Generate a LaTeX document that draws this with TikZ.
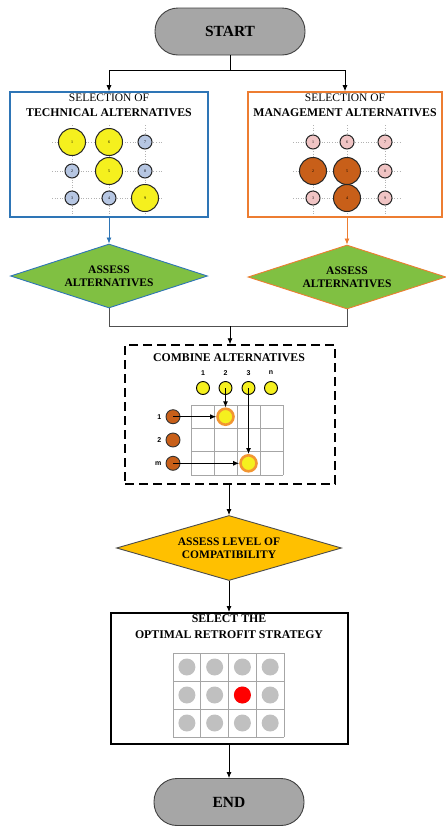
\documentclass[tikz,border=0pt]{standalone}
\usepackage{fontspec}
\setmainfont{Liberation Serif}
\setsansfont{Liberation Sans}
\usetikzlibrary{arrows.meta,positioning,shapes.geometric}
\definecolor{pillgray}{RGB}{166,166,166}
\definecolor{pilledge}{RGB}{64,64,64}
\definecolor{techblue}{RGB}{46,117,182}
\definecolor{mgmtorange}{RGB}{237,125,49}
\definecolor{assessgreen}{RGB}{128,192,66}
\definecolor{compatgold}{RGB}{255,192,0}
\definecolor{altyellow}{RGB}{245,240,30}
\definecolor{altorange}{RGB}{200,95,25}
\definecolor{ringorange}{RGB}{242,150,50}
\definecolor{altpink}{RGB}{240,196,196}
\definecolor{altblue}{RGB}{182,198,226}
\definecolor{optgray}{RGB}{192,192,192}
\definecolor{linegray}{RGB}{80,80,80}

\begin{document}
\begin{tikzpicture}[x=1pt,y=-1pt,
  pill/.style={draw=pilledge,fill=pillgray,line width=0.9pt,rounded corners=23pt,
    minimum width=150pt,minimum height=47pt,inner sep=0pt,font=\fontsize{15.5}{17}\selectfont\bfseries},
  selbox/.style={draw,line width=1.6pt,minimum width=198pt,minimum height=125pt,inner sep=0pt},
  title/.style={font=\fontsize{11.8}{13}\selectfont\bfseries,inner sep=0pt},
  subtitle/.style={font=\fontsize{11.5}{13}\selectfont,inner sep=0pt},
  dia/.style={diamond,shape aspect=3.5,draw,line width=0.9pt,inner sep=0pt,align=center,
    font=\fontsize{11.5}{13}\selectfont\bfseries},
  arr/.style={-{Latex[length=6pt,width=5pt]},line width=0.8pt},
  bigalt/.style={circle,draw=black!85,line width=1pt,minimum size=27pt,inner sep=0pt,font=\fontsize{4}{4}\selectfont},
  smallalt/.style={circle,draw=black!85,line width=1pt,minimum size=14pt,inner sep=0pt,font=\fontsize{4}{4}\selectfont},
  guide/.style={gray!60,dotted,line width=0.6pt},
  numlab/.style={font=\sffamily\bfseries\fontsize{7}{7}\selectfont,inner sep=0pt},
  ycirc/.style={circle,draw=black,fill=altyellow,line width=0.9pt,minimum size=13pt,inner sep=0pt},
  ocirc/.style={circle,draw=black!80,fill=altorange,line width=0.9pt,minimum size=14pt,inner sep=0pt},
  hit/.style={circle,draw=ringorange,fill=altyellow,line width=2.6pt,minimum size=16pt,inner sep=0pt},
  optcirc/.style={circle,fill=optgray,minimum size=17pt,inner sep=0pt}]
\useasboundingbox (0,0) rectangle (446,828);

% start and the two selection boxes
\node[pill] (start) at (230,31.5) {START};
\node[selbox,draw=techblue] (tech) at (109,154.5) {};
\node[selbox,draw=mgmtorange,minimum width=194pt] (mgmt) at (345,154.5) {};
\node[subtitle] (techtop) at (109,98) {SELECTION OF};
\node[title] (techname) at (109,113) {TECHNICAL ALTERNATIVES};
\node[subtitle] (mgmttop) at (345,98) {SELECTION OF};
\node[title] (mgmtname) at (345,113) {MANAGEMENT ALTERNATIVES};

\coordinate (split) at (230,70);
\draw[line width=0.8pt] (start) -- (split);
\draw[arr] (split) -| (tech.north);
\draw[arr] (split) -| (mgmt.north);

% technical alternatives
\foreach \y in {142,171,198} \draw[guide] (52,\y) -- (163,\y);
\foreach \x in {72,109,145} \draw[guide] (\x,125) -- (\x,215);
\foreach \n/\x/\y/\s/\c in {1/72/142/bigalt/altyellow,2/72/171/smallalt/altblue,3/72/198/smallalt/altblue,
  6/109/142/bigalt/altyellow,5/109/171/bigalt/altyellow,4/109/198/smallalt/altblue,
  7/145/142/smallalt/altblue,8/145/171/smallalt/altblue,9/145/198/bigalt/altyellow}
  \node[\s,fill=\c] (t\n) at (\x,\y) {\n};

% management alternatives
\foreach \y in {142,171,198} \draw[guide] (293,\y) -- (402,\y);
\foreach \x in {313,347,385} \draw[guide] (\x,125) -- (\x,215);
\foreach \n/\x/\y/\s/\c in {1/313/142/smallalt/altpink,2/313/171/bigalt/altorange,3/313/198/smallalt/altpink,
  6/347/142/smallalt/altpink,5/347/171/bigalt/altorange,4/347/198/bigalt/altorange,
  7/385/142/smallalt/altpink,8/385/171/smallalt/altpink,9/385/198/smallalt/altpink}
  \node[\s,fill=\c] (m\n) at (\x,\y) {\n};

% assessment of each set
\node[dia,draw=techblue,fill=assessgreen,minimum width=197pt,minimum height=64pt] (assesstech) at (109,276) {ASSESS\\ALTERNATIVES};
\node[dia,draw=mgmtorange,fill=assessgreen,minimum width=198pt,minimum height=64pt] (assessmgmt) at (347,277) {ASSESS\\ALTERNATIVES};
\draw[arr,techblue] (tech.south) -- (assesstech.north);
\draw[arr,mgmtorange] (mgmt.south -| assessmgmt.north) -- (assessmgmt.north);

\coordinate (merge) at (230,326);
\draw[line width=0.9pt,linegray] (assesstech.south) |- (merge);
\draw[line width=0.9pt,linegray] (assessmgmt.south) |- (merge);

% combine alternatives
\node[draw,dashed,dash pattern=on 9pt off 5pt,line width=1.5pt,minimum width=210pt,minimum height=139pt,inner sep=0pt] (combine) at (230,414.5) {};
\draw[arr] (merge) -- (combine.north);
\node[title] (combname) at (229,358) {COMBINE ALTERNATIVES};
\foreach \c in {0,...,4} \draw[gray!70,line width=0.8pt] (191+23*\c,405) -- (191+23*\c,475);
\foreach \r in {0,...,3} \draw[gray!70,line width=0.8pt] (191,405+70/3*\r) -- (283,405+70/3*\r);
\foreach \n/\x/\lab in {1/203/1,2/225.5/2,3/248.5/3,4/271/n} {
  \node[ycirc] (col\n) at (\x,388) {};
  \node[numlab] (collab\n) at (\x,373) {\lab};
}
\foreach \n/\y/\lab in {1/416.7/1,2/440/2,3/463.3/m} {
  \node[ocirc] (row\n) at (173,\y) {};
  \node[numlab,left=4pt of row\n] (rowlab\n) {\lab};
}
\node[hit] (hit1) at (225.5,416.7) {};
\node[hit] (hit2) at (248.5,463.3) {};
\draw[arr,line width=1.1pt] (col2.center) -- (hit1.north);
\draw[arr,line width=1.1pt] (row1.center) -- (hit1.west);
\draw[arr,line width=1.1pt] (col3.center) -- (hit2.north);
\draw[arr,line width=1.1pt] (row3.center) -- (hit2.west);

% compatibility
\node[dia,draw=black!70,fill=compatgold,minimum width=225pt,minimum height=65pt] (compat) at (229,548) {ASSESS LEVEL OF\\COMPATIBILITY};
\draw[arr] (combine.south -| compat.north) -- (compat.north);

% optimal strategy
\node[selbox,draw=black,line width=2pt,minimum width=237pt,minimum height=131pt] (select) at (229,678.5) {};
\draw[arr] (compat.south) -- (select.north);
\node[title] (seltop) at (229,619) {SELECT THE};
\node[title] (selname) at (229,635) {OPTIMAL RETROFIT STRATEGY};
\foreach \c in {0,...,4} \draw[gray!70,line width=0.8pt] (173+27.75*\c,653) -- (173+27.75*\c,737);
\foreach \r in {0,...,3} \draw[gray!70,line width=0.8pt] (173,653+28*\r) -- (284,653+28*\r);
\foreach \i in {0,...,3} \foreach \j in {0,...,2}
  \node[optcirc] (opt\i\j) at (186.9+27.75*\i,667+28*\j) {};
\node[optcirc,fill=red] (best) at (opt21) {};

% end
\node[pill] (finish) at (229,802) {END};
\draw[arr] (select.south) -- (finish.north);
\end{tikzpicture}
\end{document}
